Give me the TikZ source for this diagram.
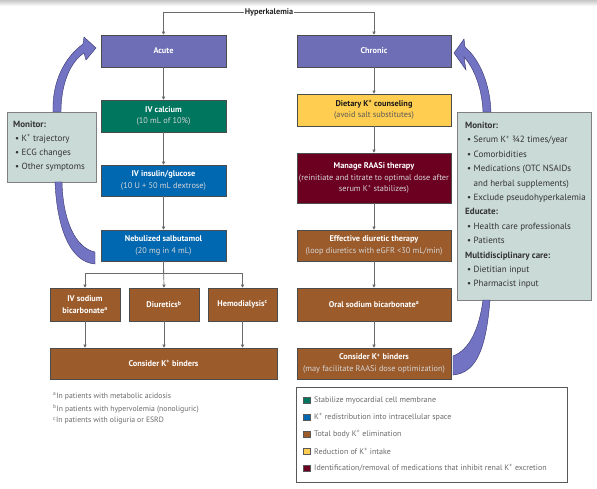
\documentclass[tikz,border=0pt]{standalone}
\usepackage{fontspec}
\setmainfont{PT Sans}
\usetikzlibrary{arrows.meta}
\definecolor{cpurple}{HTML}{6E6EB6}
\definecolor{carrow}{HTML}{7373C3}
\definecolor{carrowline}{HTML}{34346E}
\definecolor{cteal}{HTML}{00765F}
\definecolor{cblue}{HTML}{0067B1}
\definecolor{cbrown}{HTML}{9B5B2B}
\definecolor{cyellow}{HTML}{FFCD4F}
\definecolor{cdred}{HTML}{6B0020}
\definecolor{cmon}{HTML}{CADAD6}
\definecolor{cline}{HTML}{6A6A6A}
\definecolor{csub}{HTML}{D6D6D6}
\definecolor{cfoot}{HTML}{6A6A6A}
\newcommand{\Kp}{K\textsuperscript{+}}
\newcommand{\bul}{\textbullet\ }
\tikzset{
  box/.style={draw=gray!60!black, line width=0.5pt, inner sep=1pt, align=center,
    text=white, font=\fontsize{8.3}{12.5}\selectfont},
  conn/.style={draw=cline, line width=0.7pt, -{Triangle[length=3.2pt,width=3.2pt]}},
  plainconn/.style={draw=cline, line width=0.7pt},
  monbox/.style={draw=gray, fill=cmon, line width=0.6pt, inner sep=0pt},
  montext/.style={align=left, anchor=north west, inner sep=0pt, text=black!80,
    font=\fontsize{9}{14.4}\selectfont},
  band/.style={fill=carrow, draw=carrowline, line width=0.4pt},
  legsq/.style={draw=gray!70!black, line width=0.3pt, minimum size=6.5pt, inner sep=0pt},
  legtext/.style={anchor=west, inner sep=0pt, text=cfoot, font=\fontsize{8}{9}\selectfont},
  foot/.style={anchor=west, inner sep=0pt, text=cfoot, font=\fontsize{7.7}{9}\selectfont}
}
\begin{document}
\begin{tikzpicture}[x=1pt,y=-1pt]
\useasboundingbox (0,0) rectangle (597,489);
\fill[white] (0,0) rectangle (597,489);
\shade[top color=gray!45, bottom color=white] (0,0) rectangle (597,6);

% ---- top
\node[inner sep=1pt, font=\fontsize{8.2}{9}\selectfont\bfseries, text=black!85] (hk) at (269,12) {Hyperkalemia};

% ---- left column
\node[box, fill=cpurple, minimum width=125pt, minimum height=32pt] (acute) at (163.5,51) {\textbf{Acute}};
\node[box, fill=cteal, minimum width=125pt, minimum height=32pt] (calc) at (163.5,116) {\textbf{IV calcium}\\[-1pt]{\color{csub}(10 mL of 10\%)}};
\node[box, fill=cblue, minimum width=125pt, minimum height=31pt] (insulin) at (163.5,180.5) {\textbf{IV insulin/glucose}\\[-1pt]{\color{csub}(10 U + 50 mL dextrose)}};
\node[box, fill=cblue, minimum width=125pt, minimum height=31pt] (salbut) at (163.5,245.5) {\textbf{Nebulized salbutamol}\\[-1pt]{\color{csub}(20 mg in 4 mL)}};
\node[box, fill=cbrown, minimum width=70pt, minimum height=33pt] (bicarb) at (85,304.5) {\textbf{IV sodium}\\[-1pt]\textbf{bicarbonate\textsuperscript{a}}};
\node[box, fill=cbrown, minimum width=70pt, minimum height=33pt] (diur) at (164,304.5) {\textbf{Diuretics\textsuperscript{b}}};
\node[box, fill=cbrown, minimum width=69pt, minimum height=33pt] (hemo) at (242.5,304.5) {\textbf{Hemodialysis\textsuperscript{c}}};
\node[box, fill=cbrown, minimum width=227pt, minimum height=31pt] (bindL) at (163.5,363.5) {\textbf{Consider \Kp{} binders}};

% ---- right column
\node[box, fill=cpurple, minimum width=154pt, minimum height=32pt] (chronic) at (374,51) {\textbf{Chronic}};
\node[box, fill=cyellow, text=black!90, minimum width=154pt, minimum height=32pt] (diet) at (374,110) {\textbf{Dietary \Kp{} counseling}\\[-1pt]{\color{black!65}(avoid salt substitutes)}};
\node[box, fill=cdred, minimum width=154pt, minimum height=50pt] (raasi) at (374,178) {\textbf{Manage RAASi therapy}\\[-1pt]{\color{csub}(reinitiate and titrate to optimal dose after}\\[-1pt]{\color{csub}serum \Kp{} stabilizes)}};
\node[box, fill=cbrown, minimum width=154pt, minimum height=31pt] (effd) at (374,245.5) {\textbf{Effective diuretic therapy}\\[-1pt]{\color{csub}(loop diuretics with eGFR <30 mL/min)}};
\node[box, fill=cbrown, minimum width=154pt, minimum height=33pt] (oral) at (374,304.5) {\textbf{Oral sodium bicarbonate\textsuperscript{a}}};
\node[box, fill=cbrown, minimum width=154pt, minimum height=31pt] (bindR) at (374,363.5) {\textbf{Consider \Kp{} binders}\\[-1pt]{\color{csub}(may facilitate RAASi dose optimization)}};

% ---- connectors
\coordinate (hkL) at (163.5,12);
\coordinate (hkR) at (374,12);
\draw[conn] (hk.west) -- (hkL) -- (acute.north);
\draw[conn] (hk.east) -- (hkR) -- (chronic.north);
\draw[conn] (acute) -- (calc);
\draw[conn] (calc) -- (insulin);
\draw[conn] (insulin) -- (salbut);
\coordinate (br) at (163.5,273);
\draw[plainconn] (salbut.south) -- (br);
\draw[conn] (br) -| (bicarb.north);
\draw[conn] (br) -| (hemo.north);
\draw[conn] (salbut.south) -- (diur.north);
\draw[conn] (bicarb.south) -- (bicarb.south |- bindL.north);
\draw[conn] (diur.south) -- (diur.south |- bindL.north);
\draw[conn] (hemo.south) -- (hemo.south |- bindL.north);
\draw[conn] (chronic) -- (diet);
\draw[conn] (diet) -- (raasi);
\draw[conn] (raasi) -- (effd);
\draw[conn] (effd) -- (oral);
\draw[conn] (oral) -- (bindR);

% ---- monitor boxes
\node[monbox, minimum width=89pt, minimum height=70pt] (monL) at (51.5,147) {};
\node[montext, font=\fontsize{9}{14}\selectfont] (monLt) at (13,121) {\textbf{Monitor:}\\
\hspace{2pt}\bul\Kp{} trajectory\\
\hspace{2pt}\bul ECG changes\\
\hspace{2pt}\bul Other symptoms};

\node[monbox, minimum width=134pt, minimum height=188pt] (monR) at (524,206) {};
\node[montext] (monRt) at (465,122) {\textbf{Monitor:}\\
\hspace{2pt}\bul Serum \Kp{} ¾2 times/year\\
\hspace{2pt}\bul Comorbidities\\
\hspace{2pt}\bul Medications (OTC NSAIDs\\
\hspace{2pt}\phantom{\bul}and herbal supplements)\\
\hspace{2pt}\bul Exclude pseudohyperkalemia\\
\textbf{Educate:}\\
\hspace{2pt}\bul Health care professionals\\
\hspace{2pt}\bul Patients\\
\textbf{Multidisciplinary care:}\\
\hspace{2pt}\bul Dietitian input\\
\hspace{2pt}\bul Pharmacist input};

% ---- curved bands (left)
\draw[band] (53,112) .. controls (52,82) and (64,58) .. (83,44)
  -- (84,37) -- (96,48) -- (86,60) -- (84,53)
  .. controls (69,63) and (61,86) .. (61,112) -- cycle;
\draw[band] (55,182) .. controls (57,228) and (70,262) .. (95,264)
  -- (95,252) .. controls (76,248) and (63,222) .. (62,182) -- cycle;
% ---- curved bands (right)
\draw[band] (491,112) .. controls (490,84) and (480,60) .. (465,47)
  -- (464,39) -- (454,53) -- (466,70) -- (464,57)
  .. controls (474,68) and (482,88) .. (483,112) -- cycle;
\draw[band] (490,300) .. controls (486,350) and (476,373) .. (453,375)
  -- (453,356) .. controls (469,350) and (479,330) .. (483,300) -- cycle;

% ---- footnotes
\node[foot] (fa) at (53,396) {\textsuperscript{a}In patients with metabolic acidosis};
\node[foot] (fb) at (53,409) {\textsuperscript{b}In patients with hypervolemia (nonoliguric)};
\node[foot] (fc) at (53,421) {\textsuperscript{c}In patients with oliguria or ESRD};

% ---- legend
\node[draw=gray!70!black, line width=0.6pt, minimum width=271pt, minimum height=95pt, inner sep=0pt] (leg) at (431.5,434.5) {};
\node[legsq, fill=cteal] (l1) at (306.5,400) {};
\node[legsq, fill=cblue] (l2) at (306.5,417) {};
\node[legsq, fill=cbrown] (l3) at (306.5,434) {};
\node[legsq, fill=cyellow] (l4) at (306.5,451) {};
\node[legsq, fill=cdred] (l5) at (306.5,468) {};
\node[legtext] (t1) at (314,400) {Stabilize myocardial cell membrane};
\node[legtext] (t2) at (314,417) {\Kp{} redistribution into intracellular space};
\node[legtext] (t3) at (314,434) {Total body \Kp{} elimination};
\node[legtext] (t4) at (314,451) {Reduction of \Kp{} intake};
\node[legtext] (t5) at (314,468) {Identification/removal of medications that inhibit renal \Kp{} excretion};
\end{tikzpicture}
\end{document}
